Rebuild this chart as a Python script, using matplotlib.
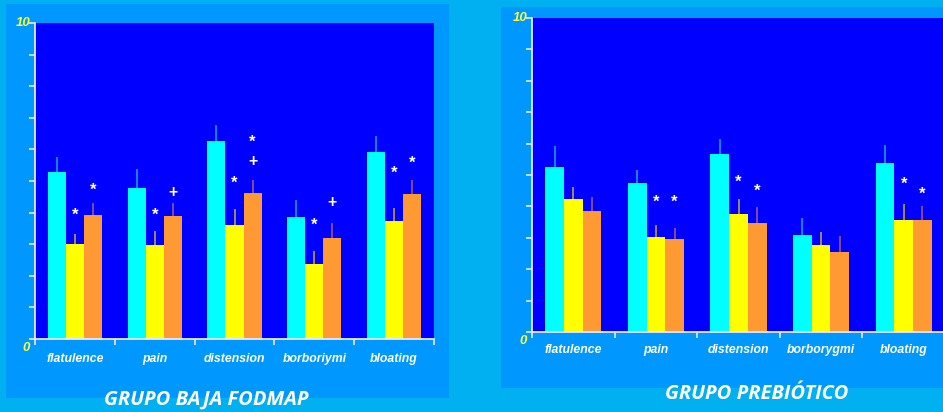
import numpy as np
import matplotlib
matplotlib.use("Agg")
import matplotlib.pyplot as plt
from matplotlib.patches import Rectangle

# ---- data ----
cats_fodmap = ["flatulence", "pain", "distension", "borboriymi", "bloating"]
cats_prebio = ["flatulence", "pain", "distension", "borborygmi", "bloating"]

# series: baseline (cyan), follow-up 1 (yellow), follow-up 2 (orange)
fodmap_base = [5.27, 4.78, 6.28, 3.85, 5.93]
fodmap_t1 = [3.00, 2.96, 3.62, 2.38, 3.73]
fodmap_t2 = [3.92, 3.89, 4.62, 3.20, 4.59]
fodmap_base_err = [0.49, 0.61, 0.49, 0.54, 0.48]
fodmap_t1_err = [0.32, 0.47, 0.48, 0.39, 0.43]
fodmap_t2_err = [0.38, 0.42, 0.41, 0.48, 0.44]

prebio_base = [5.24, 4.74, 5.66, 3.10, 5.39]
prebio_t1 = [4.23, 3.02, 3.76, 2.76, 3.56]
prebio_t2 = [3.84, 2.95, 3.46, 2.56, 3.56]
prebio_base_err = [0.68, 0.41, 0.49, 0.53, 0.56]
prebio_t1_err = [0.40, 0.38, 0.46, 0.42, 0.53]
prebio_t2_err = [0.45, 0.36, 0.53, 0.49, 0.45]

# significance marks: (category, series, symbol, height)
fodmap_marks = [
    (0, 1, "*", 3.98), (0, 2, "*", 4.76),
    (1, 1, "*", 3.98), (1, 2, "+", 4.63),
    (2, 1, "*", 4.98), (2, 2, "+", 5.61), (2, 2, "*", 6.28),
    (3, 1, "*", 3.66), (3, 2, "+", 4.32),
    (4, 1, "*", 5.31), (4, 2, "*", 5.61),
]
prebio_marks = [
    (1, 1, "*", 4.20), (1, 2, "*", 4.20),
    (2, 1, "*", 4.84), (2, 2, "*", 4.53),
    (4, 1, "*", 4.78), (4, 2, "*", 4.46),
]

# ---- styling ----
W, H = 943, 412
FIG_BG = "#00b0f0"
PANEL_BG = "#0098ff"
PLOT_BG = "#0000ff"
BAR_COLORS = ["#00ffff", "#ffff00", "#ff9933"]
ERR_COLORS = ["#1a9ae6", "#b8a040", "#9a5a80"]
LABEL_FONT = ["Liberation Sans", "DejaVu Sans"]
TITLE_FONT = ["Open Sans", "DejaVu Sans"]
TICK_YELLOW = "#ffff33"

fig = plt.figure(figsize=(W / 100, H / 100), dpi=100, facecolor=FIG_BG)


def px_rect(x0, y0, x1, y1):
    """Figure-fraction rectangle from top-left pixel coordinates."""
    return [x0 / W, 1 - y1 / H, (x1 - x0) / W, (y1 - y0) / H]


def add_panel(box):
    l, b, w, h = px_rect(*box)
    fig.patches.append(Rectangle((l, b), w, h, transform=fig.transFigure,
                                 facecolor=PANEL_BG, edgecolor="none", zorder=-10))


def draw_chart(ax_box, cats, series, errs, marks, title, title_xy, label_pad):
    ax = fig.add_axes(px_rect(*ax_box))
    ax.set_zorder(5)
    ax.set_facecolor(PLOT_BG)
    n = len(cats)
    x = np.arange(n)
    bw = 0.226
    for i, (vals, err) in enumerate(zip(series, errs)):
        xs = x + (i - 1) * bw
        ax.bar(xs, vals, width=bw, color=BAR_COLORS[i], edgecolor="none", zorder=2)
        ax.vlines(xs, vals, np.array(vals) + np.array(err), color=ERR_COLORS[i],
                  lw=1.2, zorder=1)
    for ci, si, sym, yv in marks:
        ax.annotate(sym, (ci + (si - 1) * bw, yv), xycoords="data",
                    xytext=(0, -2 if sym == "*" else 0), textcoords="offset pixels",
                    color="white", ha="center", va="center",
                    fontsize=12 if sym == "*" else 11.5, fontweight="bold",
                    family=LABEL_FONT, zorder=3)
    ax.set_xlim(-0.5, n - 0.5)
    ax.set_ylim(0, 10)
    for s in ("top", "right"):
        ax.spines[s].set_visible(False)
    for s in ("left", "bottom"):
        ax.spines[s].set_color("#e8e8ff")
        ax.spines[s].set_linewidth(1.3)
    ax.set_yticks(np.arange(0, 11, 1))
    ax.set_yticklabels([])
    ax.set_xticks(np.arange(-0.5, n, 1))
    ax.set_xticklabels([])
    ax.tick_params(axis="both", colors="#e8e8ff", length=4, width=1.2, direction="out")
    for i, c in enumerate(cats):
        ax.annotate(c, (i, 0), xycoords="data", xytext=(0, -label_pad),
                    textcoords="offset pixels", ha="center", va="center",
                    color="white", fontsize=8.8, fontweight="bold",
                    fontstyle="italic", family=LABEL_FONT, annotation_clip=False)
    ax.annotate("10", (0, 1), xycoords="axes fraction", xytext=(-12, 0),
                textcoords="offset pixels", ha="center", va="center",
                color=TICK_YELLOW, fontsize=9.5, fontweight="bold",
                fontstyle="italic", family=LABEL_FONT, annotation_clip=False)
    ax.annotate("0", (0, 0), xycoords="axes fraction", xytext=(-9, -9),
                textcoords="offset pixels", ha="center", va="center",
                color=TICK_YELLOW, fontsize=9.5, fontweight="bold",
                fontstyle="italic", family=LABEL_FONT, annotation_clip=False)
    fig.text(title_xy[0] / W, 1 - title_xy[1] / H, title, ha="center",
             va="center", color="white", fontsize=14.5, fontweight="bold",
             fontstyle="italic", family=TITLE_FONT, zorder=10)
    return ax


add_panel((6, 4, 449, 398))
add_panel((501, 7, 950, 388))

draw_chart((35, 23, 434, 339), cats_fodmap,
           [fodmap_base, fodmap_t1, fodmap_t2],
           [fodmap_base_err, fodmap_t1_err, fodmap_t2_err],
           fodmap_marks, "GRUPO BAJA FODMAP", (206, 400), 20)
draw_chart((532, 18, 945, 332), cats_prebio,
           [prebio_base, prebio_t1, prebio_t2],
           [prebio_base_err, prebio_t1_err, prebio_t2_err],
           prebio_marks, "GRUPO PREBIÓTICO", (757, 394), 18)

fig.savefig("out.png", dpi=100, facecolor=FIG_BG)
